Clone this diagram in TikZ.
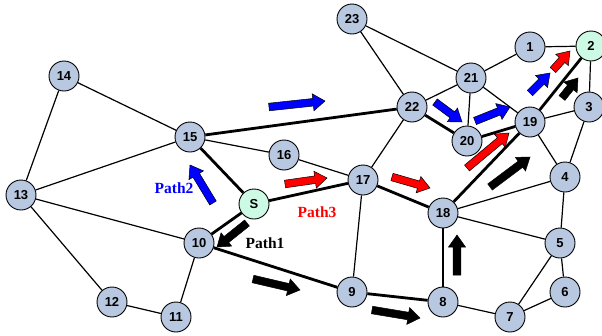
\documentclass[tikz,border=0pt]{standalone}
\usepackage{fontspec}
\setmainfont{Liberation Serif}
\newfontfamily\nodefont{Liberation Sans}
\usetikzlibrary{calc}
\definecolor{nodeblue}{RGB}{185,200,225}
\definecolor{nodegreen}{RGB}{205,250,228}
\definecolor{arrblue}{RGB}{0,0,255}
\definecolor{arrred}{RGB}{255,0,0}
\tikzset{
  vtx/.style={circle,draw=black,line width=0.9pt,fill=nodeblue,minimum size=30pt,inner sep=0pt,font=\nodefont\bfseries\fontsize{13}{13}\selectfont},
  src/.style={vtx,fill=nodegreen},
  thinedge/.style={line width=1.2pt},
  thickedge/.style={line width=2.8pt},
  pathlabel/.style={font=\bfseries\fontsize{15.5}{15.5}\selectfont,inner sep=0pt},
}
\newcommand{\blockarrow}[3]{%
  \coordinate (ba-t) at (#2);
  \coordinate (ba-p) at (#3);
  \coordinate (ba-h) at ($(ba-p)!12pt!(ba-t)$);
  \filldraw[fill=#1,draw=black,line width=0.5pt]
    ($(ba-t)!3.8pt!90:(ba-p)$) -- ($(ba-h)!3.8pt!90:(ba-p)$) --
    ($(ba-h)!8.5pt!90:(ba-p)$) -- (ba-p) --
    ($(ba-h)!8.5pt!-90:(ba-p)$) -- ($(ba-h)!3.8pt!-90:(ba-p)$) --
    ($(ba-t)!3.8pt!-90:(ba-p)$) -- cycle;
}
\begin{document}
\begin{tikzpicture}[x=1pt,y=-1pt]
\useasboundingbox (0,0) rectangle (602,335);
% nodes
\node[vtx] (n14) at (64,76) {14};
\node[vtx] (n15) at (190,137) {15};
\node[vtx] (n16) at (284,155) {16};
\node[vtx] (n23) at (352,19) {23};
\node[vtx] (n21) at (471,78) {21};
\node[vtx] (n1) at (530,47) {1};
\node[src] (n2) at (591,46) {2};
\node[vtx] (n22) at (412,107) {22};
\node[vtx] (n3) at (589,107) {3};
\node[vtx] (n19) at (530,122) {19};
\node[vtx] (n20) at (467,141) {20};
\node[vtx] (n13) at (21,195) {13};
\node[src] (nS) at (254,204) {S};
\node[vtx] (n10) at (199,243) {10};
\node[vtx] (n12) at (112,302) {12};
\node[vtx] (n11) at (176,317) {11};
\node[vtx] (n17) at (363,180) {17};
\node[vtx] (n18) at (443,213) {18};
\node[vtx] (n4) at (565,177) {4};
\node[vtx] (n5) at (560,243) {5};
\node[vtx] (n6) at (565,292) {6};
\node[vtx] (n7) at (510,317) {7};
\node[vtx] (n8) at (443,302) {8};
\node[vtx] (n9) at (352,292) {9};
% edges
\draw[thinedge] (n14) -- (n15);
\draw[thinedge] (n14) -- (n13);
\draw[thinedge] (n15) -- (n16);
\draw[thinedge] (n15) -- (n13);
\draw[thinedge] (n13) -- (n10);
\draw[thinedge] (n13) -- (n12);
\draw[thinedge] (n12) -- (n11);
\draw[thinedge] (n11) -- (n10);
\draw[thinedge] (n16) -- (n17);
\draw[thinedge] (n17) -- (n22);
\draw[thinedge] (n17) -- (n9);
\draw[thinedge] (n8) -- (n7);
\draw[thinedge] (n18) -- (n4);
\draw[thinedge] (n18) -- (n5);
\draw[thinedge] (n19) -- (n3);
\draw[thinedge] (n19) -- (n4);
\draw[thinedge] (n19) -- (n21);
\draw[thinedge] (n20) -- (n21);
\draw[thinedge] (n22) -- (n21);
\draw[thinedge] (n22) -- (n23);
\draw[thinedge] (n23) -- (n21);
\draw[thinedge] (n21) -- (n1);
\draw[thinedge] (n1) -- (n2);
\draw[thinedge] (n2) -- (n3);
\draw[thinedge] (n3) -- (n4);
\draw[thinedge] (n4) -- (n5);
\draw[thinedge] (n5) -- (n6);
\draw[thinedge] (n5) -- (n7);
\draw[thinedge] (n6) -- (n7);
\draw[thickedge] (n15) -- (n22);
\draw[thickedge] (n15) -- (nS);
\draw[thickedge] (nS) -- (n10);
\draw[thickedge] (nS) -- (n17);
\draw[thickedge] (n10) -- (n9);
\draw[thickedge] (n17) -- (n18);
\draw[thickedge] (n9) -- (n8);
\draw[thickedge] (n8) -- (n18);
\draw[thickedge] (n18) -- (n19);
\draw[thickedge] (n19) -- (n2);
\draw[thickedge] (n19) -- (n20);
\draw[thickedge] (n20) -- (n22);
% block arrows
\blockarrow{arrblue}{269,107}{325,101}
\blockarrow{arrblue}{435,102}{462,122}
\blockarrow{arrblue}{475,121}{510,107}
\blockarrow{arrblue}{530,93}{550,73}
\blockarrow{arrblue}{213,203}{190,165}
\blockarrow{arrred}{285,184}{327,178}
\blockarrow{arrred}{392,177}{430,188}
\blockarrow{arrred}{467,168}{509,133}
\blockarrow{arrred}{553,70}{570,51}
\blockarrow{black}{247,223}{217,247}
\blockarrow{black}{253,279}{300,290}
\blockarrow{black}{372,310}{420,318}
\blockarrow{black}{457,275}{457,235}
\blockarrow{black}{490,187}{530,157}
\blockarrow{black}{562,98}{578,78}
% labels
\node[pathlabel,text=black] (p1) at (265,243) {Path1};
\node[pathlabel,text=arrblue] (p2) at (174,188) {Path2};
\node[pathlabel,text=arrred] (p3) at (317,212) {Path3};
\end{tikzpicture}
\end{document}
